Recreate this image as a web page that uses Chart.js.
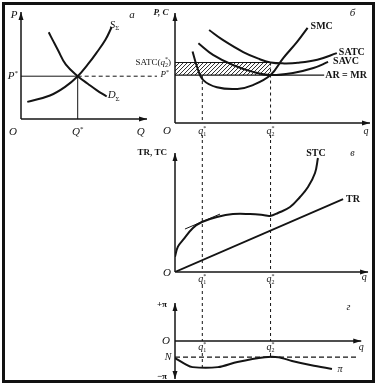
<!DOCTYPE html>
<html>
<head>
<meta charset="utf-8">
<script src="https://cdn.jsdelivr.net/npm/chart.js@4/dist/chart.umd.min.js"></script>
<style>
  body { margin: 0; background: #fff; }
  #wrap { position: relative; width: 378px; height: 386px; background: #fff; overflow: hidden; }
  #wrap canvas { position: absolute; }
  #frame { position: absolute; left: 2px; top: 2px; width: 367px; height: 375px; border: 3px solid #111; }
</style>
</head>
<body>
<div id="wrap">
  <canvas id="chart_a" width="160" height="140" style="left:0;top:0"></canvas>
  <canvas id="chart_b" width="258" height="140" style="left:120px;top:0"></canvas>
  <canvas id="chart_c" width="258" height="145" style="left:120px;top:140px"></canvas>
  <canvas id="chart_d" width="258" height="101" style="left:120px;top:285px"></canvas>
  <div id="frame"></div>
</div>
<script>
// panel a: market supply and demand
const supply_q = [0.5, 2.3, 3.5, 4.5, 5.3, 6.0, 6.7, 7.2];
const supply_p = [1.6, 2.2, 3.0, 4.0, 5.1, 6.2, 7.4, 8.6];
const demand_q = [2.2, 2.55, 2.95, 3.55, 4.5, 5.3, 6.0, 6.8];
const demand_p = [8.1, 7.3, 6.4, 5.1, 4.0, 3.3, 2.7, 2.1];
const eq_q = 4.5;
const eq_p = 4.0;

// panel b: firm's short-run costs
const smc_q = [0.9, 1.15, 1.45, 2.15, 3.2, 4.0, 4.9, 5.55, 6.25, 6.8];
const smc_c = [6.5, 5.0, 3.9, 3.25, 3.1, 3.45, 4.36, 5.9, 7.35, 8.65];
const satc_q = [1.75, 2.45, 3.5, 4.35, 4.9, 5.6, 6.3, 7.3, 8.3];
const satc_c = [8.45, 7.55, 6.45, 5.8, 5.5, 5.42, 5.47, 5.75, 6.35];
const savc_q = [1.2, 1.95, 3.0, 4.0, 4.9, 6.05, 7.1, 7.85];
const savc_c = [7.25, 6.2, 5.25, 4.65, 4.36, 4.55, 5.0, 5.55];
const price = 4.36;
const satc_at_q2 = 5.5;
const ar_end_q = 7.65;
const q1 = 1.4;
const q2 = 4.9;

// panel c: total revenue and total cost
const stc_q = [0, 0.15, 0.41, 0.92, 1.38, 2.15, 2.97, 3.85, 4.51, 4.87, 5.28, 5.9, 6.41, 6.82, 7.18, 7.33];
const stc_c = [1.29, 2.13, 2.69, 3.7, 4.2, 4.62, 4.87, 4.87, 4.79, 4.71, 4.96, 5.46, 6.3, 7.14, 8.32, 9.58];
const tr_q = [0, 8.62];
const tr_r = [0, 6.13];
const tangent_q = [0.51, 2.31];
const tangent_c = [3.61, 4.87];

// panel d: profit (loss)
const profit_q = [0, 0.5, 0.9, 2.2, 3.2, 4.6, 5.3, 6.0, 7.0, 8.05];
const profit_v = [-1.8, -2.4, -2.75, -2.75, -2.2, -1.7, -1.7, -2.1, -2.55, -2.95];
const n_level = -1.7;
const loss_at_q1 = -2.75;
const n_end_q = 9.4;

const ink = '#141414';
const serif = '"Liberation Serif", "DejaVu Serif", serif';

function curve (xs, ys, width, tension) {
  return {
    data: xs.map((v, i) => ({ x: v, y: ys[i] })),
    showLine: true,
    borderColor: ink,
    borderWidth: width || 2,
    pointRadius: 0,
    tension: tension === undefined ? 0.4 : tension,
    fill: false
  };
}

function make_chart (id, datasets, x_min, x_max, y_min, y_max, padding, draw_plugin) {
  return new Chart(document.getElementById(id), {
    type: 'scatter',
    data: { datasets: datasets },
    options: {
      responsive: false,
      animation: false,
      layout: { padding: padding },
      scales: {
        x: { type: 'linear', display: false, min: x_min, max: x_max },
        y: { type: 'linear', display: false, min: y_min, max: y_max }
      },
      plugins: { legend: { display: false }, tooltip: { enabled: false } }
    },
    plugins: [draw_plugin]
  });
}

function seg (ctx, x0, y0, x1, y1, dash) {
  ctx.setLineDash(dash || []);
  ctx.beginPath();
  ctx.moveTo(x0, y0);
  ctx.lineTo(x1, y1);
  ctx.stroke();
  ctx.setLineDash([]);
}

function arrow (ctx, x0, y0, x1, y1) {
  seg(ctx, x0, y0, x1, y1);
  const a = Math.atan2(y1 - y0, x1 - x0);
  ctx.beginPath();
  ctx.moveTo(x1, y1);
  ctx.lineTo(x1 - 8 * Math.cos(a) + 2.5 * Math.sin(a), y1 - 8 * Math.sin(a) - 2.5 * Math.cos(a));
  ctx.lineTo(x1 - 8 * Math.cos(a) - 2.5 * Math.sin(a), y1 - 8 * Math.sin(a) + 2.5 * Math.cos(a));
  ctx.closePath();
  ctx.fill();
}

function text (ctx, str, x, y, size, align, style) {
  ctx.font = (style || '') + ' ' + size + 'px ' + serif;
  ctx.textAlign = align || 'center';
  ctx.textBaseline = 'middle';
  ctx.fillText(str, x, y);
}

// italic letter with optional subscript and superscript, e.g. q1*
function sym (ctx, base, sub, sup, x, y, size, align) {
  const small = Math.round(size * 0.62);
  ctx.textBaseline = 'middle';
  ctx.textAlign = 'left';
  ctx.font = 'italic ' + size + 'px ' + serif;
  const w1 = ctx.measureText(base).width;
  ctx.font = small + 'px ' + serif;
  const w2 = Math.max(sub ? ctx.measureText(sub).width : 0, sup ? ctx.measureText(sup).width : 0);
  const w = w1 + w2;
  let left = x - w / 2;
  if (align === 'left') left = x;
  if (align === 'right') left = x - w;
  ctx.font = 'italic ' + size + 'px ' + serif;
  ctx.fillText(base, left, y);
  ctx.font = small + 'px ' + serif;
  if (sub) ctx.fillText(sub, left + w1, y + size * 0.3);
  if (sup) ctx.fillText(sup, left + w1, y - size * 0.3);
  return w;
}

const plugin_a = {
  id: 'panel_a',
  beforeDatasetsDraw (chart) {
    const { ctx, scales: { x, y } } = chart;
    const x0 = x.getPixelForValue(0);
    const y0 = y.getPixelForValue(0);
    const px = x.getPixelForValue(eq_q);
    const py = y.getPixelForValue(eq_p);
    ctx.save();
    ctx.strokeStyle = ink;
    ctx.fillStyle = ink;
    ctx.lineWidth = 1.5;
    arrow(ctx, x0, y0, x0, y.getPixelForValue(10));
    arrow(ctx, x0, y0, x.getPixelForValue(10), y0);
    ctx.lineWidth = 1;
    seg(ctx, x0, py, px, py);
    seg(ctx, px, py, chart.width - 3, py, [4, 3]);
    seg(ctx, px, py, px, y0);
    ctx.restore();
  },
  afterDatasetsDraw (chart) {
    const { ctx, scales: { x, y } } = chart;
    const x0 = x.getPixelForValue(0);
    const y0 = y.getPixelForValue(0);
    ctx.save();
    ctx.fillStyle = ink;
    sym(ctx, 'P', '', '', x0 - 7, y.getPixelForValue(10) + 3, 11);
    sym(ctx, 'a', '', '', x.getPixelForValue(8.8), y.getPixelForValue(9.7), 11);
    sym(ctx, 'P', '', '*', x0 - 3, y.getPixelForValue(eq_p), 11, 'right');
    sym(ctx, 'O', '', '', x0 - 8, y0 + 13, 11);
    sym(ctx, 'Q', '', '*', x.getPixelForValue(eq_q), y0 + 13, 11);
    sym(ctx, 'Q', '', '', x.getPixelForValue(9.5), y0 + 13, 11);
    sym(ctx, 'S', '\u03a3', '', x.getPixelForValue(7.2) - 2, y.getPixelForValue(8.6) - 2, 11, 'left');
    sym(ctx, 'D', '\u03a3', '', x.getPixelForValue(6.8) + 1, y.getPixelForValue(2.1) - 1, 11, 'left');
    ctx.restore();
  }
};

function dashed_guides (ctx, x, y_top, y_axis, y_bottom) {
  ctx.lineWidth = 1;
  seg(ctx, x, y_top, x, y_axis, [3, 3]);
  if (y_bottom > y_axis + 12) seg(ctx, x, y_axis + 12, x, y_bottom, [3, 3]);
}

const plugin_b = {
  id: 'panel_b',
  beforeDatasetsDraw (chart) {
    const { ctx, scales: { x, y } } = chart;
    const x0 = x.getPixelForValue(0);
    const y0 = y.getPixelForValue(0);
    const xq1 = x.getPixelForValue(q1);
    const xq2 = x.getPixelForValue(q2);
    const yp = y.getPixelForValue(price);
    const ys = y.getPixelForValue(satc_at_q2);
    ctx.save();
    ctx.strokeStyle = ink;
    ctx.fillStyle = ink;
    // hatched loss rectangle
    ctx.save();
    ctx.beginPath();
    ctx.rect(x0, ys, xq2 - x0, yp - ys);
    ctx.clip();
    ctx.lineWidth = 0.9;
    for (let k = x0 - 20; k < xq2 + 20; k += 4) {
      seg(ctx, k, yp, k + (yp - ys), ys);
    }
    ctx.restore();
    ctx.lineWidth = 1.2;
    seg(ctx, x0, ys, xq2, ys);
    seg(ctx, x0, yp, x.getPixelForValue(ar_end_q), yp);
    dashed_guides(ctx, xq1, yp, y0, chart.height);
    dashed_guides(ctx, xq2, ys, y0, chart.height);
    ctx.lineWidth = 1.5;
    arrow(ctx, x0, y0, x0, y.getPixelForValue(10));
    arrow(ctx, x0, y0, x.getPixelForValue(10), y0);
    ctx.restore();
  },
  afterDatasetsDraw (chart) {
    const { ctx, scales: { x, y } } = chart;
    const x0 = x.getPixelForValue(0);
    const y0 = y.getPixelForValue(0);
    ctx.save();
    ctx.fillStyle = ink;
    text(ctx, 'P, C', x0 - 14, y.getPixelForValue(10), 9, 'center', 'italic bold');
    sym(ctx, '\u0431', '', '', x.getPixelForValue(9.1), y.getPixelForValue(10), 11);
    // SATC(q2*) label, right aligned to the axis
    ctx.font = '9px ' + serif;
    const w_close = ctx.measureText(')').width;
    const w_q = (function () { ctx.font = 'italic 9px ' + serif; const a = ctx.measureText('q').width; ctx.font = '6px ' + serif; return a + ctx.measureText('2').width; })();
    ctx.font = '9px ' + serif;
    const w_open = ctx.measureText('SATC(').width;
    const ys = y.getPixelForValue(satc_at_q2);
    let left = x0 - 4 - (w_open + w_q + w_close);
    text(ctx, 'SATC(', left, ys, 9, 'left');
    sym(ctx, 'q', '2', '*', left + w_open, ys, 9, 'left');
    text(ctx, ')', left + w_open + w_q, ys, 9, 'left');
    sym(ctx, 'P', '', '*', x0 - 6, y.getPixelForValue(price), 9, 'right');
    sym(ctx, 'O', '', '', x0 - 8, y0 + 8, 11);
    sym(ctx, 'q', '1', '*', x.getPixelForValue(q1), y0 + 8, 10);
    sym(ctx, 'q', '2', '*', x.getPixelForValue(q2), y0 + 8, 10);
    sym(ctx, 'q', '', '', x.getPixelForValue(9.8), y0 + 8, 10);
    text(ctx, 'SMC', x.getPixelForValue(6.8) + 3, y.getPixelForValue(8.65) - 1, 10, 'left', 'bold');
    text(ctx, 'SATC', x.getPixelForValue(8.3) + 2, y.getPixelForValue(6.35) - 1, 10, 'left', 'bold');
    text(ctx, 'SAVC', x.getPixelForValue(7.85) + 5, y.getPixelForValue(5.55) - 1, 10, 'left', 'bold');
    text(ctx, 'AR = MR', x.getPixelForValue(ar_end_q) + 1, y.getPixelForValue(price), 10, 'left', 'bold');
    ctx.restore();
  }
};

const plugin_c = {
  id: 'panel_c',
  beforeDatasetsDraw (chart) {
    const { ctx, scales: { x, y } } = chart;
    const x0 = x.getPixelForValue(0);
    const y0 = y.getPixelForValue(0);
    ctx.save();
    ctx.strokeStyle = ink;
    ctx.fillStyle = ink;
    dashed_guides(ctx, x.getPixelForValue(q1), 0, y0, chart.height);
    dashed_guides(ctx, x.getPixelForValue(q2), 0, y0, chart.height);
    ctx.lineWidth = 1.5;
    arrow(ctx, x0, y0, x0, y.getPixelForValue(10));
    arrow(ctx, x0, y0, x.getPixelForValue(9.9), y0);
    ctx.restore();
  },
  afterDatasetsDraw (chart) {
    const { ctx, scales: { x, y } } = chart;
    const x0 = x.getPixelForValue(0);
    const y0 = y.getPixelForValue(0);
    ctx.save();
    ctx.fillStyle = ink;
    text(ctx, 'TR, TC', x0 - 8, y.getPixelForValue(10), 9, 'right', 'bold');
    sym(ctx, '\u0432', '', '', x.getPixelForValue(9.1), y.getPixelForValue(10), 10);
    sym(ctx, 'O', '', '', x0 - 8, y0 + 1, 11);
    sym(ctx, 'q', '1', '*', x.getPixelForValue(q1), y0 + 7, 10);
    sym(ctx, 'q', '2', '*', x.getPixelForValue(q2), y0 + 7, 10);
    sym(ctx, 'q', '', '', x.getPixelForValue(9.7), y0 + 5, 10);
    text(ctx, 'STC', x.getPixelForValue(7.33) - 2, y.getPixelForValue(10), 10, 'center', 'bold');
    text(ctx, 'TR', x.getPixelForValue(8.62) + 3, y.getPixelForValue(6.13), 10, 'left', 'bold');
    ctx.restore();
  }
};

const plugin_d = {
  id: 'panel_d',
  beforeDatasetsDraw (chart) {
    const { ctx, scales: { x, y } } = chart;
    const x0 = x.getPixelForValue(0);
    const y0 = y.getPixelForValue(0);
    ctx.save();
    ctx.strokeStyle = ink;
    ctx.fillStyle = ink;
    dashed_guides(ctx, x.getPixelForValue(q1), 0, y0, y.getPixelForValue(loss_at_q1));
    dashed_guides(ctx, x.getPixelForValue(q2), 0, y0, y.getPixelForValue(n_level));
    ctx.lineWidth = 1.4;
    seg(ctx, x0, y.getPixelForValue(n_level), x.getPixelForValue(n_end_q), y.getPixelForValue(n_level), [5, 3]);
    ctx.lineWidth = 1.5;
    arrow(ctx, x0, y0, x0, y.getPixelForValue(4));
    arrow(ctx, x0, y0, x0, y.getPixelForValue(-4));
    arrow(ctx, x0, y0, x.getPixelForValue(9.55), y0);
    ctx.restore();
  },
  afterDatasetsDraw (chart) {
    const { ctx, scales: { x, y } } = chart;
    const x0 = x.getPixelForValue(0);
    const y0 = y.getPixelForValue(0);
    ctx.save();
    ctx.fillStyle = ink;
    text(ctx, '+\u03c0', x0 - 13, y.getPixelForValue(3.8), 9, 'center', 'bold');
    text(ctx, '\u2212\u03c0', x0 - 13, y.getPixelForValue(-3.8), 9, 'center', 'bold');
    sym(ctx, 'O', '', '', x0 - 9, y0, 11);
    sym(ctx, 'N', '', '', x0 - 7, y.getPixelForValue(n_level), 10);
    sym(ctx, 'q', '1', '*', x.getPixelForValue(q1), y0 + 6, 10);
    sym(ctx, 'q', '2', '*', x.getPixelForValue(q2), y0 + 6, 10);
    sym(ctx, 'q', '', '', x.getPixelForValue(9.55), y0 + 6, 10);
    sym(ctx, '\u0433', '', '', x.getPixelForValue(8.9), y.getPixelForValue(3.5), 10);
    sym(ctx, '\u03c0', '', '', x.getPixelForValue(8.05) + 8, y.getPixelForValue(-2.95), 10);
    ctx.restore();
  }
};

make_chart('chart_a', [curve(supply_q, supply_p), curve(demand_q, demand_p)],
  0, 10, 0, 10, { left: 21, right: 13, top: 12, bottom: 21 }, plugin_a);
make_chart('chart_b', [curve(smc_q, smc_c), curve(satc_q, satc_c), curve(savc_q, savc_c)],
  0, 10, 0, 10, { left: 55, right: 8, top: 13, bottom: 17 }, plugin_b);
make_chart('chart_c', [curve(stc_q, stc_c), curve(tr_q, tr_r, 1.8, 0), curve(tangent_q, tangent_c, 1, 0)],
  0, 10, 0, 10, { left: 55, right: 8, top: 13, bottom: 13 }, plugin_c);
make_chart('chart_d', [curve(profit_q, profit_v, 2, 0.3)],
  0, 10, -4, 4, { left: 55, right: 8, top: 18, bottom: 7 }, plugin_d);
</script>
</body>
</html>
